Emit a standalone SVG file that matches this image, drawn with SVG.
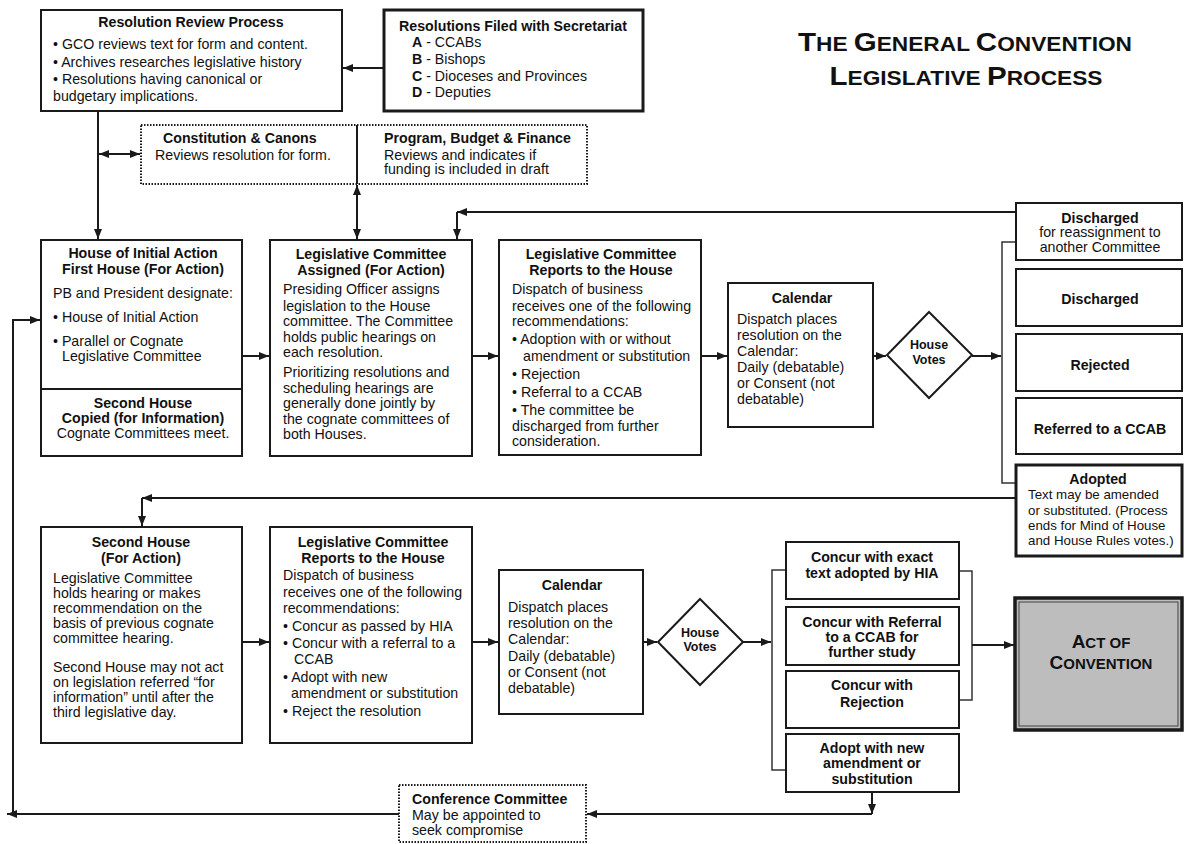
<svg xmlns="http://www.w3.org/2000/svg" width="1184" height="844" viewBox="0 0 1184 844">
<style>
text{font-family:"Liberation Sans",Arial,Helvetica,sans-serif;font-size:14.2px;fill:#111}
.b{font-weight:bold}
.c{text-anchor:middle}
.sm{font-size:12.5px}
.ad{font-size:13.3px}
.box{fill:#fff;stroke:#1a1a1a;stroke-width:2}
.thick{stroke-width:3}
.dot{stroke-dasharray:1.5 1.5}
.conn path{fill:none;stroke:#1a1a1a;stroke-width:2}
.conn path.thin{stroke:#333;stroke-width:1.5}
</style>
<defs>
<marker id="ah" viewBox="0 0 10 10" refX="10" refY="5" markerUnits="userSpaceOnUse" markerWidth="10" markerHeight="10" orient="auto-start-reverse">
<path d="M0,1 L10,5 L0,9 z" fill="#1a1a1a"/>
</marker>
</defs>
<rect width="1184" height="844" fill="#fff"/>

<g id="title">
<text class="b c" x="965" y="51" textLength="334" lengthAdjust="spacingAndGlyphs"><tspan font-size="26">T</tspan><tspan font-size="20">HE </tspan><tspan font-size="26">G</tspan><tspan font-size="20">ENERAL </tspan><tspan font-size="26">C</tspan><tspan font-size="20">ONVENTION</tspan></text>
<text class="b c" x="966" y="85" textLength="273" lengthAdjust="spacingAndGlyphs"><tspan font-size="26">L</tspan><tspan font-size="20">EGISLATIVE </tspan><tspan font-size="26">P</tspan><tspan font-size="20">ROCESS</tspan></text>
</g>

<g class="conn" id="connectors">
<path d="M384,68 H343" marker-end="url(#ah)"/>
<path d="M98,111 V239" marker-end="url(#ah)"/>
<path d="M99,154 H140" marker-start="url(#ah)" marker-end="url(#ah)"/>
<path d="M357,185 V239" marker-start="url(#ah)" marker-end="url(#ah)"/>
<path d="M1016,212 H457" marker-end="url(#ah)"/>
<path d="M457,212 V239" marker-end="url(#ah)"/>
<path d="M399,814 H7" marker-end="url(#ah)"/>
<path d="M13,814 V320 H40" marker-end="url(#ah)"/>
<path d="M242,356 H269" marker-end="url(#ah)"/>
<path d="M472,356 H498" marker-end="url(#ah)"/>
<path d="M701,356 H727" marker-end="url(#ah)"/>
<path d="M873,356 H886" marker-end="url(#ah)"/>
<path d="M972,356 H1001" marker-end="url(#ah)"/>
<path class="thin" d="M1016,242 H1002 V483 H1016"/>
<path d="M1016,498 H142" marker-end="url(#ah)"/>
<path d="M142,498 V526" marker-end="url(#ah)"/>
<path d="M242,642 H269" marker-end="url(#ah)"/>
<path d="M472,642 H498" marker-end="url(#ah)"/>
<path d="M643,642 H657" marker-end="url(#ah)"/>
<path d="M743,642 H771" marker-end="url(#ah)"/>
<path class="thin" d="M786,570 H772 V770 H786"/>
<path class="thin" d="M959,571 H972 V700 H959"/>
<path d="M972,645 H1014" marker-end="url(#ah)"/>
<path d="M872,792 V814" marker-end="url(#ah)"/>
<path d="M872,814 H587" marker-end="url(#ah)"/>
</g>

<g id="resolution-review">
<rect class="box" x="41" y="10" width="301" height="101"/>
<text class="b c" x="191" y="27">Resolution Review Process</text>
<text x="53" y="49">• GCO reviews text for form and content.</text>
<text x="53" y="67">• Archives researches legislative history</text>
<text x="53" y="84">• Resolutions having canonical or</text>
<text x="53" y="101">budgetary implications.</text>
</g>

<g id="resolutions-filed">
<rect class="box thick" x="384" y="10" width="259" height="101"/>
<text class="b c" x="513" y="31">Resolutions Filed with Secretariat</text>
<text x="412" y="47"><tspan class="b">A</tspan> - CCABs</text>
<text x="412" y="64"><tspan class="b">B</tspan> - Bishops</text>
<text x="412" y="81"><tspan class="b">C</tspan> - Dioceses and Provinces</text>
<text x="412" y="97"><tspan class="b">D</tspan> - Deputies</text>
</g>

<g id="constitution-pbf">
<rect class="box dot" x="141" y="125" width="446" height="59"/>
<path d="M357,125 V184" stroke="#1a1a1a" stroke-width="2"/>
<text class="b" x="163" y="143">Constitution &amp; Canons</text>
<text x="155" y="160">Reviews resolution for form.</text>
<text class="b" x="384" y="143">Program, Budget &amp; Finance</text>
<text x="384" y="160">Reviews and indicates if</text>
<text x="384" y="174">funding is included in draft</text>
</g>

<g id="house-initial-action">
<rect class="box" x="41" y="240" width="201" height="216"/>
<path d="M41,389 H242" stroke="#1a1a1a" stroke-width="2"/>
<text class="b c" x="143" y="258">House of Initial Action</text>
<text class="b c" x="143" y="274">First House (For Action)</text>
<text x="53" y="298">PB and President designate:</text>
<text x="53" y="322">• House of Initial Action</text>
<text x="53" y="346">• Parallel or Cognate</text>
<text x="62" y="361">Legislative Committee</text>
<text class="b c" x="143" y="408">Second House</text>
<text class="b c" x="143" y="423">Copied (for Information)</text>
<text class="c" x="143" y="438">Cognate Committees meet.</text>
</g>

<g id="leg-committee-assigned">
<rect class="box" x="270" y="240" width="202" height="216"/>
<text class="b c" x="371" y="259">Legislative Committee</text>
<text class="b c" x="371" y="275">Assigned (For Action)</text>
<text x="283" y="294">Presiding Officer assigns</text>
<text x="283" y="311">legislation to the House</text>
<text x="283" y="326">committee. The Committee</text>
<text x="283" y="342">holds public hearings on</text>
<text x="283" y="357">each resolution.</text>
<text x="283" y="377">Prioritizing resolutions and</text>
<text x="283" y="393">scheduling hearings are</text>
<text x="283" y="408">generally done jointly by</text>
<text x="283" y="424">the cognate committees of</text>
<text x="283" y="439">both Houses.</text>
</g>

<g id="leg-committee-reports-1">
<rect class="box" x="499" y="240" width="202" height="215"/>
<text class="b c" x="601" y="259">Legislative Committee</text>
<text class="b c" x="601" y="275">Reports to the House</text>
<text x="512" y="294">Dispatch of business</text>
<text x="512" y="311">receives one of the following</text>
<text x="512" y="326">recommendations:</text>
<text x="512" y="344">• Adoption with or without</text>
<text x="523" y="361">amendment or substitution</text>
<text x="512" y="379">• Rejection</text>
<text x="512" y="397">• Referral to a CCAB</text>
<text x="512" y="415">• The committee be</text>
<text x="512" y="431">discharged from further</text>
<text x="512" y="446">consideration.</text>
</g>

<g id="calendar-1">
<rect class="box" x="728" y="283" width="145" height="144"/>
<text class="b c" x="802" y="303">Calendar</text>
<text x="737" y="324">Dispatch places</text>
<text x="737" y="340">resolution on the</text>
<text x="737" y="356">Calendar:</text>
<text x="737" y="372">Daily (debatable)</text>
<text x="737" y="388">or Consent (not</text>
<text x="737" y="404">debatable)</text>
</g>

<g id="house-votes-1">
<polygon class="box" points="929,312 972,355 929,398 887,355"/>
<text class="b c sm" x="929" y="349">House</text>
<text class="b c sm" x="929" y="364">Votes</text>
</g>

<g id="discharged-reassignment">
<rect class="box" x="1016" y="203" width="166" height="57"/>
<text class="b c" x="1100" y="223">Discharged</text>
<text class="c" x="1100" y="237">for reassignment to</text>
<text class="c" x="1100" y="252">another Committee</text>
</g>
<g id="discharged">
<rect class="box" x="1016" y="269" width="166" height="57"/>
<text class="b c" x="1100" y="304">Discharged</text>
</g>
<g id="rejected">
<rect class="box" x="1016" y="334" width="166" height="57"/>
<text class="b c" x="1100" y="370">Rejected</text>
</g>
<g id="referred-ccab">
<rect class="box" x="1016" y="398" width="166" height="56"/>
<text class="b c" x="1100" y="434">Referred to a CCAB</text>
</g>
<g id="adopted">
<rect class="box thick" x="1016" y="465" width="166" height="91"/>
<text class="b c" x="1098" y="484">Adopted</text>
<text class="ad" x="1028" y="499">Text may be amended</text>
<text class="ad" x="1028" y="515">or substituted. (Process</text>
<text class="ad" x="1028" y="530">ends for Mind of House</text>
<text class="ad" x="1028" y="545">and House Rules votes.)</text>
</g>

<g id="second-house">
<rect class="box" x="41" y="527" width="201" height="216"/>
<text class="b c" x="141" y="547">Second House</text>
<text class="b c" x="141" y="563">(For Action)</text>
<text x="53" y="583">Legislative Committee</text>
<text x="53" y="598">holds hearing or makes</text>
<text x="53" y="613">recommendation on the</text>
<text x="53" y="628">basis of previous cognate</text>
<text x="53" y="643">committee hearing.</text>
<text x="53" y="672">Second House may not act</text>
<text x="53" y="687">on legislation referred “for</text>
<text x="53" y="702">information” until after the</text>
<text x="53" y="717">third legislative day.</text>
</g>

<g id="leg-committee-reports-2">
<rect class="box" x="270" y="527" width="202" height="216"/>
<text class="b c" x="373" y="547">Legislative Committee</text>
<text class="b c" x="373" y="563">Reports to the House</text>
<text x="283" y="580">Dispatch of business</text>
<text x="283" y="597">receives one of the following</text>
<text x="283" y="613">recommendations:</text>
<text x="283" y="631">• Concur as passed by HIA</text>
<text x="283" y="648">• Concur with a referral to a</text>
<text x="294" y="664">CCAB</text>
<text x="283" y="682">• Adopt with new</text>
<text x="291" y="698">amendment or substitution</text>
<text x="283" y="716">• Reject the resolution</text>
</g>

<g id="calendar-2">
<rect class="box" x="499" y="570" width="144" height="144"/>
<text class="b c" x="572" y="590">Calendar</text>
<text x="508" y="612">Dispatch places</text>
<text x="508" y="628">resolution on the</text>
<text x="508" y="644">Calendar:</text>
<text x="508" y="661">Daily (debatable)</text>
<text x="508" y="677">or Consent (not</text>
<text x="508" y="693">debatable)</text>
</g>

<g id="house-votes-2">
<polygon class="box" points="700,599 743,642 700,685 658,642"/>
<text class="b c sm" x="700" y="637">House</text>
<text class="b c sm" x="700" y="651">Votes</text>
</g>

<g id="concur-exact">
<rect class="box" x="786" y="542" width="173" height="57"/>
<text class="b c" x="872" y="562">Concur with exact</text>
<text class="b c" x="872" y="578">text adopted by HIA</text>
</g>
<g id="concur-referral">
<rect class="box" x="786" y="607" width="173" height="58"/>
<text class="b c" x="872" y="627">Concur with Referral</text>
<text class="b c" x="872" y="642">to a CCAB for</text>
<text class="b c" x="872" y="657">further study</text>
</g>
<g id="concur-rejection">
<rect class="box" x="786" y="671" width="173" height="57"/>
<text class="b c" x="872" y="690">Concur with</text>
<text class="b c" x="872" y="707">Rejection</text>
</g>
<g id="adopt-new">
<rect class="box" x="786" y="734" width="173" height="58"/>
<text class="b c" x="872" y="753">Adopt with new</text>
<text class="b c" x="872" y="768">amendment or</text>
<text class="b c" x="872" y="784">substitution</text>
</g>

<g id="act-of-convention">
<rect x="1015" y="598" width="167" height="132" fill="#bdbdbd" stroke="#1a1a1a" stroke-width="3.5"/>
<rect x="1019" y="602" width="159" height="124" fill="none" stroke="#555" stroke-width="1.2"/>
<text class="b c" x="1101" y="648"><tspan font-size="19">A</tspan><tspan font-size="15">CT OF</tspan></text>
<text class="b c" x="1101" y="669"><tspan font-size="19">C</tspan><tspan font-size="15">ONVENTION</tspan></text>
</g>

<g id="conference-committee">
<rect class="box dot" x="399" y="785" width="187" height="57"/>
<text class="b" x="412" y="804">Conference Committee</text>
<text x="412" y="820">May be appointed to</text>
<text x="412" y="835">seek compromise</text>
</g>
</svg>
